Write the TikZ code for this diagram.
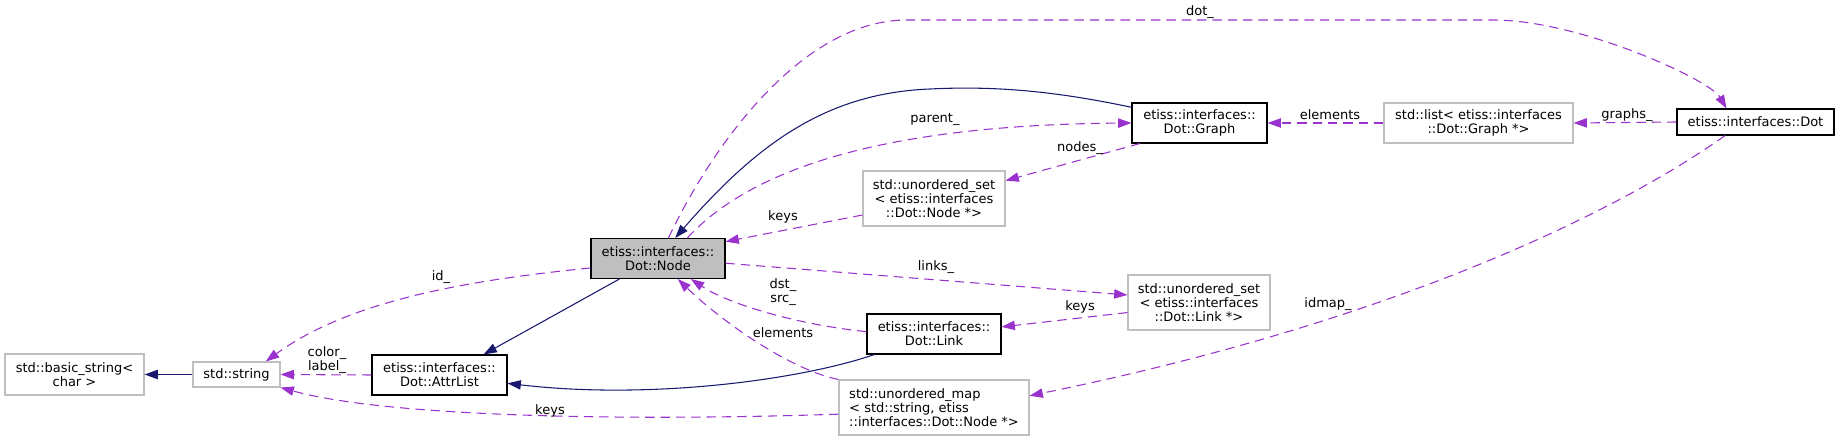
\documentclass[tikz,border=0pt]{standalone}
\usepackage{fontspec}
\usepackage{tikz}
\usetikzlibrary{arrows.meta,positioning}
\newfontfamily\dxfont{DejaVu Sans}
\definecolor{edgenavy}{RGB}{25, 25, 112}
\definecolor{edgepurple}{RGB}{154, 50, 205}
\definecolor{boxgray}{RGB}{191, 191, 191}

\begin{document}
\begin{tikzpicture}[x=0.75pt, y=-0.75pt,
    every node/.style={font=\dxfont\fontsize{9.75}{10.5}\selectfont},
    sz/.style 2 args={minimum width=#1*0.75pt, minimum height=#2*0.75pt},
    cls/.style={draw=black, fill=white, line width=0.8pt, inner sep=0pt, align=center},
    ext/.style={cls, draw=boxgray},
    cur/.style={cls, fill=boxgray},
    inh/.style={draw=edgenavy, line width=0.8pt, -{Triangle[length=10pt, width=7pt]}},
    use/.style={draw=edgepurple, line width=0.8pt, dash pattern=on 7pt off 4.5pt, -{Triangle[length=10pt, width=7pt]}},
    lbl/.style={inner sep=0pt, align=center}]
    \useasboundingbox (0,0) rectangle (1840,441);

    % Classes
    \node[ext, sz={139}{41}] (bstr) at (74.5,374.5) {std::basic\_string<\\char >};
    \node[ext, sz={87}{25}] (str) at (236.5,374.5) {std::string};
    \node[cls, sz={135}{40}] (attr) at (439.5,375) {etiss::interfaces::\\Dot::AttrList};
    \node[cur, sz={134}{40}] (dnode) at (658,258.5) {etiss::interfaces::\\Dot::Node};
    \node[ext, sz={142}{55}] (usetn) at (934,198.5) {std::unordered\_set\\< etiss::interfaces\\::Dot::Node *>};
    \node[cls, sz={135}{40}] (graph) at (1199.5,123) {etiss::interfaces::\\Dot::Graph};
    \node[ext, sz={189}{40}] (list) at (1478.5,123) {std::list< etiss::interfaces\\::Dot::Graph *>};
    \node[cls, sz={157}{26}] (dot) at (1755.5,122) {etiss::interfaces::Dot};
    \node[cls, sz={134}{40}] (link) at (934,334) {etiss::interfaces::\\Dot::Link};
    \node[ext, sz={142}{55}] (usetl) at (1199,302.5) {std::unordered\_set\\< etiss::interfaces\\::Dot::Link *>};
    \node[ext, sz={190}{55}, align=left] (umap) at (934,407.5) {std::unordered\_map\\< std::string, etiss\\::interfaces::Dot::Node *>};

    % Inheritance
    \draw[inh] (str.west) -- (bstr.east);
    \draw[inh] (dnode.208) -- (attr.25);
    \draw[inh] (link.199) .. controls (800,380) and (650,400) .. (attr.-7);
    \draw[inh] (graph.167.5) .. controls (1050,90) and (990,86) .. (930,89) .. controls (830,93) and (760,140) .. (dnode.50);

    % Usage
    \draw[use] (dnode.63) .. controls (710,150) and (800,20) .. (907,20) -- (1493,20) .. controls (1580,20) and (1710,80) .. (dot.155.5) node[lbl] (ldot) at (1200,12) {dot\_};
    \draw[use] (dnode.35) .. controls (750,170) and (880,125) .. (graph.west) node[lbl] (lpar) at (935,119) {parent\_};
    \draw[use] (graph.199.5) -- (usetn.14) node[lbl] (lnod) at (1080,148) {nodes\_};
    \draw[use] (usetn.193) -- (dnode.14) node[lbl] (lky1) at (783,217) {keys};
    \draw[use] (dnode.-4) -- (usetl.174) node[lbl] (llnk) at (936,267) {links\_};
    \draw[use] (usetl.188) -- (link.6) node[lbl] (lky2) at (1080,307) {keys};
    \draw[use] (link.178) .. controls (800,325) and (730,305) .. (dnode.-32) node[lbl] (lds) at (783,292) {dst\_\\src\_};
    \draw[use] (umap.north west) .. controls (790,370) and (720,320) .. (dnode.-46.5) node[lbl] (lel1) at (783,333) {elements};
    \draw[use] (dot.204.5) .. controls (1620,210) and (1400,320) .. (umap.7) node[lbl] (lidm) at (1328,304) {idmap\_};
    \draw[use] (list.west) -- (graph.east) node[lbl] (lel2) at (1330,115) {elements};
    \draw[use] (dot.west) -- (list.east) node[lbl] (lgr) at (1627,115) {graphs\_};
    \draw[use] (dnode.188.5) .. controls (470,280) and (350,300) .. (str.24.4) node[lbl] (lid) at (441,277) {id\_};
    \draw[use] (attr.west) -- (str.east) node[lbl] (lcl) at (327,360) {color\_\\label\_};
    \draw[use] (umap.184.5) .. controls (600,422) and (380,415) .. (str.south east) node[lbl] (lky3) at (550,411) {keys};
\end{tikzpicture}
\end{document}
